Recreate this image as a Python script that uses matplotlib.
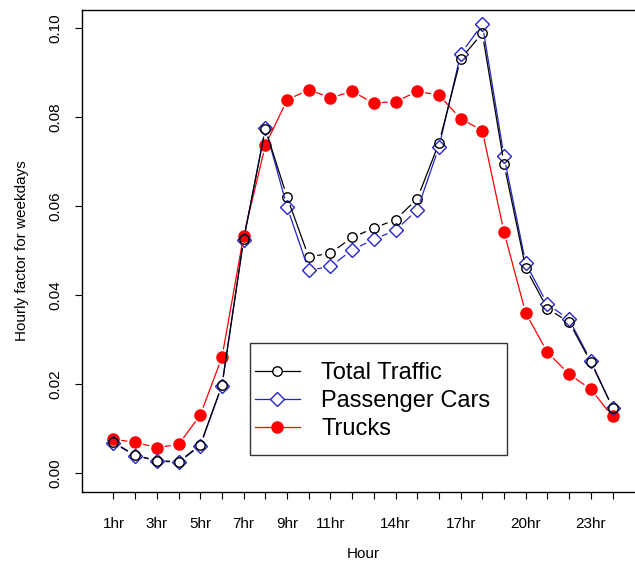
import numpy as np
import matplotlib
matplotlib.use('Agg')
import matplotlib.pyplot as plt
from matplotlib.lines import Line2D
from matplotlib.patches import Rectangle

plt.rcParams['font.family'] = ['Liberation Sans', 'DejaVu Sans']

hours = list(range(1, 25))
tick_hours = [1, 3, 5, 7, 9, 11, 14, 17, 20, 23]
tick_labels = ['1hr', '3hr', '5hr', '7hr', '9hr', '11hr', '14hr', '17hr', '20hr', '23hr']

total_traffic = [0.0069, 0.0040, 0.0028, 0.0025, 0.0063, 0.0197, 0.0525, 0.0773, 0.0620, 0.0485,
                 0.0494, 0.0529, 0.0550, 0.0569, 0.0616, 0.0741, 0.0930, 0.0988, 0.0694, 0.0460,
                 0.0369, 0.0339, 0.0249, 0.0147]
passenger_cars = [0.0067, 0.0039, 0.0027, 0.0024, 0.0061, 0.0196, 0.0524, 0.0775, 0.0598, 0.0455,
                  0.0464, 0.0501, 0.0525, 0.0545, 0.0591, 0.0732, 0.0941, 0.1008, 0.0711, 0.0471,
                  0.0379, 0.0345, 0.0252, 0.0147]
trucks = [0.0076, 0.0069, 0.0057, 0.0064, 0.0130, 0.0260, 0.0533, 0.0736, 0.0838, 0.0861,
          0.0843, 0.0857, 0.0831, 0.0834, 0.0857, 0.0849, 0.0796, 0.0769, 0.0541, 0.0359,
          0.0271, 0.0222, 0.0188, 0.0127]

blue = '#2424c8'
W, H = 635, 565
fig = plt.figure(figsize=(W / 100, H / 100), dpi=100)
ax = fig.add_axes([82 / W, 73 / H, 562 / W, 482 / H])


def draw_b(x, y, color, marker, ms, mfc, gap):
    # R type="b": line segments stop short of each point
    for i in range(len(x) - 1):
        ax.annotate('', xy=(x[i + 1], y[i + 1]), xytext=(x[i], y[i]),
                    arrowprops=dict(arrowstyle='-', color=color, lw=0.9,
                                    shrinkA=gap, shrinkB=gap))
    ax.plot(x, y, linestyle='none', marker=marker, markersize=ms,
            markerfacecolor=mfc, markeredgecolor=color, markeredgewidth=1.0)


draw_b(hours, trucks, 'red', 'o', 8, 'red', 6.0)
draw_b(hours, passenger_cars, blue, 'D', 6.8, 'none', 6.5)
draw_b(hours, total_traffic, 'black', 'o', 6.8, 'none', 6.5)

ax.set_xlim(-0.45, 25.45)
ax.set_ylim(-0.00427, 0.1040)

ax.set_xticks(hours, minor=True)
ax.set_xticks(tick_hours)
ax.set_xticklabels(tick_labels)
ax.tick_params(axis='x', which='both', direction='out', length=5, width=0.8, pad=13, labelsize=11)
ax.set_yticks([0.0, 0.02, 0.04, 0.06, 0.08, 0.10])
ax.set_yticklabels(['0.00', '0.02', '0.04', '0.06', '0.08', '0.10'], rotation=90, va='center')
ax.tick_params(axis='y', direction='out', length=5, width=0.8, pad=9, labelsize=11)
for s in ax.spines.values():
    s.set_linewidth(1.0)

ax.set_xlabel('Hour', fontsize=11, va='top')
ax.xaxis.set_label_coords(0.5, -0.115)
ax.set_ylabel('Hourly factor for weekdays', fontsize=11)
ax.yaxis.set_label_coords(-0.095, 0.5)

# legend with R-style box
fig.patches.append(Rectangle((250 / W, (H - 455) / H), 257 / W, 112 / H,
                             transform=fig.transFigure, fill=False,
                             edgecolor='#333333', linewidth=1.0))
handles = [
    Line2D([], [], color='black', lw=0.9, marker='o', markersize=6.8,
           markerfacecolor='white', markeredgecolor='black'),
    Line2D([], [], color=blue, lw=0.9, marker='D', markersize=6.8,
           markerfacecolor='white', markeredgecolor=blue),
    Line2D([], [], color='red', lw=0.9, marker='o', markersize=8,
           markerfacecolor='red', markeredgecolor='red'),
]
fig.legend(handles, ['Total Traffic', 'Passenger Cars', 'Trucks'],
           loc='center left', bbox_to_anchor=(255 / W, (H - 401) / H),
           frameon=False, fontsize=17, handlelength=1.9, handletextpad=0.9,
           labelspacing=0.25, borderpad=0, borderaxespad=0)

fig.savefig('out.png', dpi=100)
